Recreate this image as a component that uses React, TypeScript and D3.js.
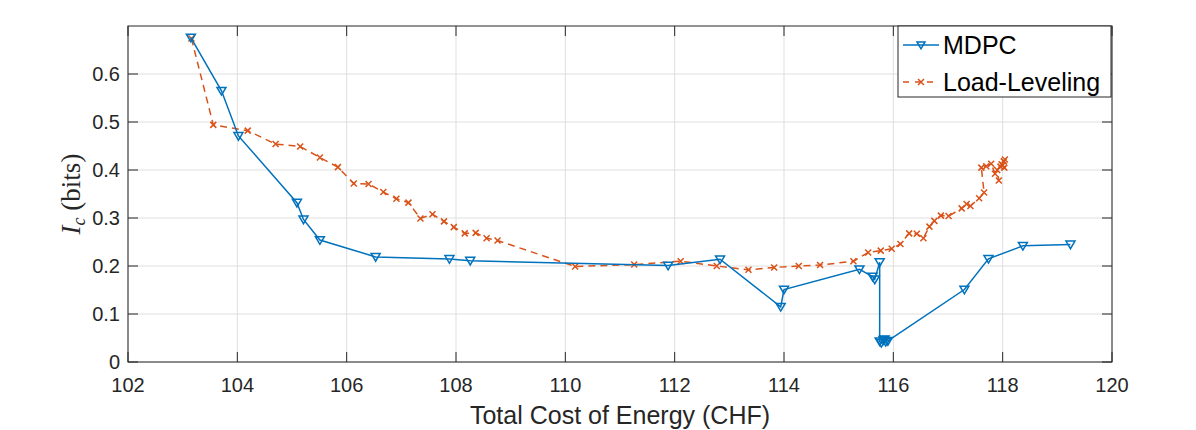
import React from 'react';
import * as d3 from 'd3';

// MDPC: total cost (CHF) vs information leakage (bits)
const mdpcCost = [
  103.15, 103.71, 104.02, 105.09, 105.21, 105.51, 106.53, 107.88, 108.26, 111.88,
  112.83, 113.94, 114.0, 115.38, 115.62, 115.66, 115.75, 115.75, 115.78, 115.82,
  115.86, 115.84, 115.9, 117.3, 117.74, 118.37, 119.24,
];
const mdpcBits = [
  0.676, 0.565, 0.471, 0.332, 0.297, 0.254, 0.219, 0.2146, 0.211, 0.201,
  0.214, 0.115, 0.151, 0.193, 0.178, 0.172, 0.208, 0.043, 0.040, 0.046,
  0.042, 0.047, 0.044, 0.151, 0.215, 0.242, 0.245,
];

// Load-Leveling
const llCost = [
  103.16, 103.56, 104.19, 104.7, 105.15, 105.51, 105.84, 106.13, 106.4, 106.67,
  106.91, 107.13, 107.35, 107.57, 107.78, 107.96, 108.16, 108.36, 108.56, 108.76,
  110.18, 111.26, 112.11, 112.77, 113.35, 113.82, 114.27, 114.66, 115.27, 115.54,
  115.77, 115.97, 116.13, 116.29, 116.43, 116.55, 116.66, 116.75, 116.87, 117.01,
  117.25, 117.34, 117.41, 117.57, 117.66, 117.61, 117.7, 117.79, 117.86, 117.93,
  117.9, 117.96, 118.0, 118.02, 118.04, 117.98, 118.03,
];
const llBits = [
  0.674, 0.494, 0.482, 0.454, 0.449, 0.426, 0.406, 0.372, 0.371, 0.354,
  0.34, 0.332, 0.299, 0.308, 0.293, 0.281, 0.268, 0.269, 0.258, 0.253,
  0.199, 0.203, 0.21, 0.2, 0.192, 0.197, 0.2, 0.202, 0.21, 0.228,
  0.232, 0.236, 0.246, 0.268, 0.267, 0.258, 0.282, 0.294, 0.305, 0.304,
  0.32, 0.329, 0.325, 0.341, 0.353, 0.405, 0.408, 0.413, 0.392, 0.378,
  0.4, 0.407, 0.41, 0.418, 0.422, 0.412, 0.405,
];

const xTicks = [102, 104, 106, 108, 110, 112, 114, 116, 118, 120];
const yTicks = [0, 0.1, 0.2, 0.3, 0.4, 0.5, 0.6];

const W = 1196;
const H = 430;
const M = { left: 128, right: 1112, top: 26, bottom: 362 };
const AX = '#262626';
const BLUE = '#0072BD';
const ORANGE = '#D95319';
const FONT = 'Liberation Sans, Arial, sans-serif';

function tri(x: number, y: number, s: number) {
  return `M${x - s},${y - s * 0.75}L${x + s},${y - s * 0.75}L${x},${y + s * 0.95}Z`;
}

function cross(x: number, y: number, s: number) {
  return `M${x - s},${y - s}L${x + s},${y + s}M${x - s},${y + s}L${x + s},${y - s}`;
}

export default function App() {
  const x = d3.scaleLinear().domain([102, 120]).range([M.left, M.right]);
  const y = d3.scaleLinear().domain([0, 0.7]).range([M.bottom, M.top]);

  const mdpc = mdpcCost.map((c, i) => [c, mdpcBits[i]] as [number, number]);
  const ll = llCost.map((c, i) => [c, llBits[i]] as [number, number]);

  const line = d3.line<[number, number]>().x(d => x(d[0])).y(d => y(d[1]));

  const tick = 10;

  return (
    <div style={{ position: 'absolute', left: 0, top: 0 }}>
      <svg width={W} height={H} style={{ display: 'block', background: '#fff' }}>
        {/* grid */}
        <g stroke="#dfdfdf" strokeWidth={1}>
          {xTicks.map(t => (
            <line key={'gx' + t} x1={x(t)} x2={x(t)} y1={M.top} y2={M.bottom} />
          ))}
          {yTicks.map(t => (
            <line key={'gy' + t} x1={M.left} x2={M.right} y1={y(t)} y2={y(t)} />
          ))}
        </g>

        {/* series */}
        <path d={line(ll) || ''} fill="none" stroke={ORANGE} strokeWidth={1.5} strokeDasharray="7,5" />
        <g stroke={ORANGE} strokeWidth={1.5} fill="none">
          {ll.map((d, i) => (
            <path key={'lm' + i} d={cross(x(d[0]), y(d[1]), 3)} />
          ))}
        </g>
        <path d={line(mdpc) || ''} fill="none" stroke={BLUE} strokeWidth={1.5} />
        <g stroke={BLUE} strokeWidth={1.5} fill="none">
          {mdpc.map((d, i) => (
            <path key={'mm' + i} d={tri(x(d[0]), y(d[1]), 4.5)} />
          ))}
        </g>

        {/* axes box and ticks */}
        <rect x={M.left} y={M.top} width={M.right - M.left} height={M.bottom - M.top} fill="none" stroke={AX} strokeWidth={1} />
        <g stroke={AX} strokeWidth={1}>
          {xTicks.map(t => (
            <g key={'tx' + t}>
              <line x1={x(t)} x2={x(t)} y1={M.bottom} y2={M.bottom - tick} />
              <line x1={x(t)} x2={x(t)} y1={M.top} y2={M.top + tick} />
            </g>
          ))}
          {yTicks.map(t => (
            <g key={'ty' + t}>
              <line x1={M.left} x2={M.left + tick} y1={y(t)} y2={y(t)} />
              <line x1={M.right} x2={M.right - tick} y1={y(t)} y2={y(t)} />
            </g>
          ))}
        </g>

        <g fontFamily={FONT} fontSize={20} fill={AX}>
          {xTicks.map(t => (
            <text key={'lx' + t} x={x(t)} y={M.bottom + 30} textAnchor="middle">{t}</text>
          ))}
          {yTicks.map(t => (
            <text key={'ly' + t} x={M.left - 8} y={y(t) + 7} textAnchor="end">{t === 0 ? '0' : t.toFixed(1)}</text>
          ))}
        </g>

        <text x={(M.left + M.right) / 2} y={424} textAnchor="middle" fontFamily={FONT} fontSize={25} fill={AX}>
          Total Cost of Energy (CHF)
        </text>

        <text transform={`translate(80,${(M.top + M.bottom) / 2}) rotate(-90)`} textAnchor="middle"
          fontFamily="Liberation Serif, DejaVu Serif, serif" fontSize={27} fill={AX}>
          <tspan fontStyle="italic">I</tspan>
          <tspan fontStyle="italic" fontSize={18} dy={5}>c</tspan>
          <tspan dy={-5}> (bits)</tspan>
        </text>

        {/* legend */}
        <g>
          <rect x={898} y={26} width={213} height={71} fill="#fff" stroke={AX} strokeWidth={1} />
          <line x1={903} x2={939} y1={45} y2={45} stroke={BLUE} strokeWidth={1.5} />
          <path d={tri(921, 45, 4)} fill="none" stroke={BLUE} strokeWidth={1.5} />
          <line x1={903} x2={939} y1={82} y2={82} stroke={ORANGE} strokeWidth={1.5} strokeDasharray="6,6" />
          <path d={cross(921, 82, 3)} stroke={ORANGE} strokeWidth={1.5} />
          <g fontFamily={FONT} fontSize={25} fill="#000">
            <text x={943} y={54}>MDPC</text>
            <text x={943} y={91}>Load-Leveling</text>
          </g>
        </g>
      </svg>
    </div>
  );
}
